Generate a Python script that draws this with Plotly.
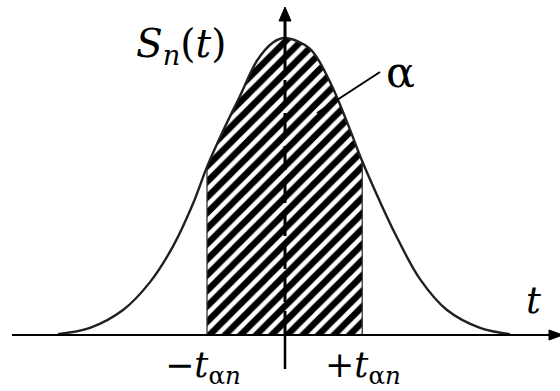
import plotly.graph_objects as go

# Density curve S_n(t): t in scaled units, heights normalised to the peak
t_vals = [-3.03, -2.60, -2.16, -1.80, -1.49, -1.23, -1.04, -0.83, -0.60, -0.37, -0.16, 0.0,
          0.33, 0.60, 0.83, 1.03, 1.27, 1.49, 1.80, 2.16, 2.60, 3.00]
s_vals = [0.003, 0.024, 0.084, 0.178, 0.300, 0.440, 0.566, 0.685, 0.805, 0.925, 0.985, 1.0,
          0.964, 0.852, 0.715, 0.585, 0.447, 0.330, 0.188, 0.084, 0.024, 0.003]

# Confidence bounds -t_an ... +t_an
t_lower, t_upper = -1.04, 1.03

W, H = 560, 391
X0, Y0 = 285, 335          # pixel position of the origin
SX, SY = 75, 297           # pixels per unit along t and S


def px(x):
    return (x - X0) / SX


def py(y):
    return (Y0 - y) / SY


SERIF = "DejaVu Serif, Liberation Serif, serif"
INK = "#231f20"

shade_t = [t for t in t_vals if t_lower <= t <= t_upper]
shade_s = [s for t, s in zip(t_vals, s_vals) if t_lower <= t <= t_upper]

fig = go.Figure()

# hatched area between the bounds
fig.add_trace(go.Scatter(
    x=shade_t, y=shade_s, mode="lines", line=dict(width=0, shape="spline"),
    fill="tozeroy", fillcolor="white",
    fillpattern=dict(shape="/", fgcolor="black", bgcolor="white", fgopacity=1,
                     size=11, solidity=0.58),
    hoverinfo="skip", showlegend=False))

# thin edges of the hatched area
for tb in (t_lower, t_upper):
    sb = s_vals[t_vals.index(tb)]
    fig.add_trace(go.Scatter(x=[tb, tb], y=[0, sb], mode="lines",
                             line=dict(color="#333333", width=1.3),
                             hoverinfo="skip", showlegend=False))

# the density curve
fig.add_trace(go.Scatter(
    x=t_vals, y=s_vals, mode="lines", line=dict(color=INK, width=2.4, shape="spline"),
    hoverinfo="skip", showlegend=False))

# vertical axis: dashed inside the area, solid above the peak and below the t axis
fig.add_trace(go.Scatter(x=[0, 0], y=[0, py(62)], mode="lines",
                         line=dict(color="black", width=3, dash="24px,9px"),
                         hoverinfo="skip", showlegend=False))
fig.add_shape(type="line", x0=0, x1=0, y0=py(62), y1=py(19), line=dict(color="black", width=3))
fig.add_shape(type="line", x0=0, x1=0, y0=0, y1=py(369), line=dict(color="black", width=2.5))
fig.add_shape(type="path", path=f"M {px(279)} {py(21)} L {px(285)} {py(7)} L {px(291)} {py(21)} Z",
              fillcolor="black", line=dict(color="black", width=1))

# horizontal t axis with arrow
fig.add_shape(type="line", x0=px(12), x1=px(552), y0=0, y1=0, line=dict(color="black", width=2.2))
fig.add_shape(type="path", path=f"M {px(549)} {py(330)} L {px(563)} {py(335)} L {px(549)} {py(340)} Z",
              fillcolor="black", line=dict(color="black", width=1))

# leader line to the alpha label
fig.add_shape(type="line", x0=px(317), y0=py(113), x1=px(380), y1=py(72),
              line=dict(color="black", width=2))

labels = [
    ("<i>S</i><sub><i>n</i></sub>(<i>t</i>)", 181, 46, 39),
    ("α", 400, 72, 43),
    ("<i>t</i>", 533, 300, 37),
    ("−<i>t</i><sub>α<i>n</i></sub>", 203, 367, 35),
    ("+<i>t</i><sub>α<i>n</i></sub>", 363, 367, 35),
]
for txt, lx, ly, fs in labels:
    fig.add_annotation(x=px(lx), y=py(ly), text=txt, showarrow=False,
                       xanchor="center", yanchor="middle",
                       font=dict(family=SERIF, size=fs, color="black"))

fig.update_xaxes(range=[px(0), px(W)], visible=False, fixedrange=True)
fig.update_yaxes(range=[py(H), py(0)], visible=False, fixedrange=True)
fig.update_layout(width=W, height=H, margin=dict(l=0, r=0, t=0, b=0),
                  plot_bgcolor="white", paper_bgcolor="white", showlegend=False)

fig.write_html("out.html")
